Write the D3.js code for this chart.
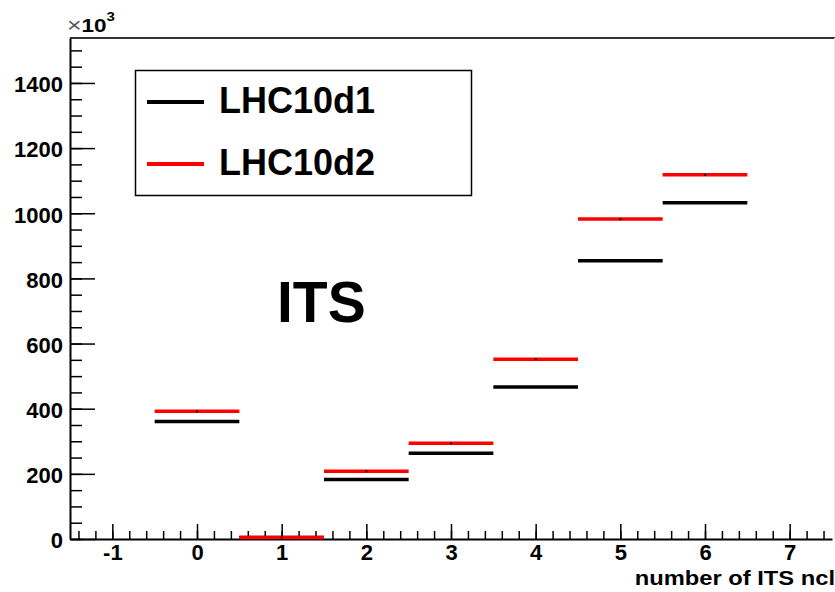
<!DOCTYPE html>
<html lang="en">
  <head>
    <meta charset="utf-8">
    <title>ITS ncl</title>
    <style>
      body { margin: 0; background: #fff; }
      svg { display: block; font-family: "Liberation Sans", Arial, sans-serif; font-weight: bold; }
    </style>
  </head>
  <body>
    <svg id="chart" width="835" height="592"></svg>
  <script src="https://cdn.jsdelivr.net/npm/d3@7"></script>
  <script type="text/javascript">

    // histogram contents (x1000 entries), one value per ITS cluster bin
    var bins = [0, 1, 2, 3, 4, 5, 6];
    var lhc10d1 = [361, 0, 183, 263, 467, 854, 1032];
    var lhc10d2 = [392, 0, 208, 294, 552, 982, 1118];
    var seriesNames = ['LHC10d1', 'LHC10d2'];
    var seriesColors = ['#000000', '#ff0000'];
    var xTickLabels = [-1, 0, 1, 2, 3, 4, 5, 6, 7];
    var yTickLabels = [0, 200, 400, 600, 800, 1000, 1200, 1400];

    var svg = d3.select('#chart');
    var padL = 70, padR = 832, padT = 38, padB = 539;
    var fontFam = '"Liberation Sans", Arial, sans-serif';

    var x = d3.scaleLinear().domain([-1.5, 7.5]).range([padL, padR]);
    var y = d3.scaleLinear().domain([0, 1538]).range([padB, padT]);

    // frame
    svg.append('line').attr('x1', padL).attr('x2', 835).attr('y1', padT).attr('y2', padT)
      .attr('stroke', '#333').attr('stroke-width', 2);
    svg.append('line').attr('x1', 834.5).attr('x2', 834.5).attr('y1', padT).attr('y2', padB)
      .attr('stroke', '#e4e4e4').attr('stroke-width', 1);

    // y axis
    var yMinor = d3.range(0, 1538, 50);
    var gy = svg.append('g').attr('transform', 'translate(' + padL + ',0)');
    gy.call(d3.axisLeft(y).tickValues(yMinor).tickSize(-12).tickSizeOuter(0).tickFormat(''));
    var gy2 = svg.append('g').attr('transform', 'translate(' + padL + ',0)');
    gy2.call(d3.axisLeft(y).tickValues(yTickLabels).tickSize(-25).tickSizeOuter(0)
      .tickPadding(7).tickFormat(d3.format('d')));
    gy2.select('.domain').remove();
    gy.select('.domain').attr('stroke-width', 2);
    gy.selectAll('line').attr('stroke-width', 1.5);
    gy2.selectAll('line').attr('stroke-width', 1.5);
    gy2.attr('font-size', 22).attr('font-family', fontFam);
    gy2.selectAll('text').attr('font-weight', 'bold').attr('dy', '0.4em').attr('fill', '#000');

    // x axis
    var xMinor = d3.range(-1.4, 7.65, 0.2).map(function(v) { return Math.round(v * 10) / 10; });
    var gx = svg.append('g').attr('transform', 'translate(0,' + padB + ')');
    gx.call(d3.axisBottom(x).tickValues(xMinor).tickSize(-8).tickSizeOuter(0).tickFormat(''));
    var gx2 = svg.append('g').attr('transform', 'translate(0,' + padB + ')');
    gx2.call(d3.axisBottom(x).tickValues(xTickLabels).tickSize(-15).tickSizeOuter(0).tickPadding(5));
    gx2.select('.domain').remove();
    gx.select('.domain').attr('stroke-width', 2);
    gx.selectAll('line').attr('stroke-width', 1.5);
    gx2.selectAll('line').attr('stroke-width', 1.5);
    gx2.attr('font-size', 22).attr('font-family', fontFam);
    gx2.selectAll('text').attr('font-weight', 'bold').attr('fill', '#000')
      .text(function(d) { return d < 0 ? '-' + Math.abs(d) : d; });

    // histogram steps
    var series = [lhc10d1, lhc10d2];
    series.forEach(function(vals, k) {
      svg.append('g').selectAll('line').data(bins).enter().append('line')
        .attr('x1', function(d) { return x(d - 0.5); })
        .attr('x2', function(d) { return x(d + 0.5); })
        .attr('y1', function(d, i) { return y(vals[i]) - (vals[i] === 0 ? 1.5 : 0); })
        .attr('y2', function(d, i) { return y(vals[i]) - (vals[i] === 0 ? 1.5 : 0); })
        .attr('stroke', seriesColors[k]).attr('stroke-width', 3.5);
    });
    // markers at bin centres
    svg.append('g').selectAll('rect').data(bins).enter().append('rect')
      .attr('x', function(d) { return x(d) - 1; })
      .attr('y', function(d, i) { return y(lhc10d2[i]) - 1 - (lhc10d2[i] === 0 ? 1.5 : 0); })
      .attr('width', 2).attr('height', 2).attr('fill', '#000');

    // legend
    var lg = svg.append('g');
    lg.append('rect').attr('x', 135.5).attr('y', 70.5).attr('width', 336).attr('height', 125)
      .attr('fill', '#fff').attr('stroke', '#000').attr('stroke-width', 1.5);
    seriesNames.forEach(function(name, k) {
      var ly = 102 + k * 62;
      lg.append('line').attr('x1', 147).attr('x2', 204).attr('y1', ly).attr('y2', ly)
        .attr('stroke', seriesColors[k]).attr('stroke-width', 4);
      lg.append('text').attr('x', 219).attr('y', ly + 11).attr('font-size', 36).text(name);
    });

    // labels
    svg.append('text').attr('x', 277).attr('y', 322).attr('font-size', 57).text('ITS');
    svg.append('text').attr('x', 0).attr('y', 0).attr('text-anchor', 'end')
      .attr('transform', 'translate(835,585) scale(1.13,1)')
      .attr('font-size', 21).text('number of ITS ncl');
    var ex = svg.append('text').attr('x', 0).attr('y', 0)
      .attr('transform', 'translate(67,32) scale(1.25,1)');
    ex.append('tspan').attr('font-weight', 'normal').attr('font-size', 20).attr('fill', '#555').text('\u00d7');
    ex.append('tspan').attr('font-size', 18).text('10');
    ex.append('tspan').attr('font-size', 12).attr('dy', -11).text('3');

  </script>
  </body>
</html>
